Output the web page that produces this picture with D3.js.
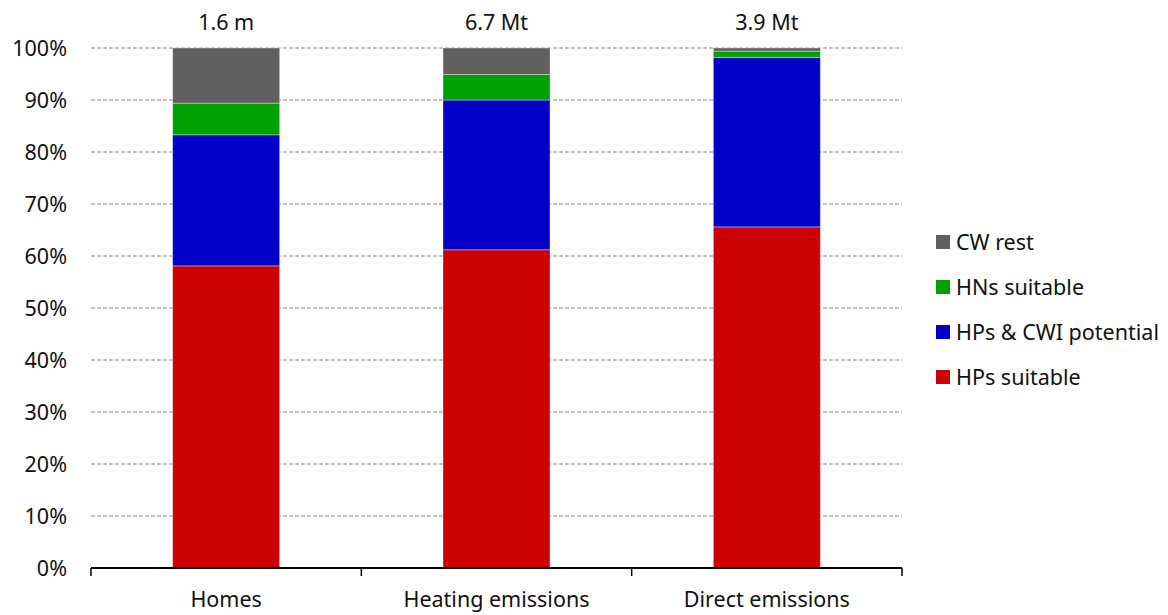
<!DOCTYPE html>
<html>
<head>
<script src="https://d3js.org/d3.v7.min.js"></script>
<style>
  body { margin: 0; background: #fff; }
  text { font-family: "Noto Sans", "Open Sans", sans-serif; fill: #111; }
</style>
</head>
<body>
<div id="chart"></div>
<script>
// Data
const categories = ["Homes", "Heating emissions", "Direct emissions"];
const totals = ["1.6 m", "6.7 Mt", "3.9 Mt"];
const seriesNames = ["HPs suitable", "HPs & CWI potential", "HNs suitable", "CW rest"];
const hpsSuitable = [58.1, 61.2, 65.6];
const hpsCwi = [25.2, 28.8, 32.6];
const hnsSuitable = [6.1, 4.9, 1.2];
const cwRest = [10.6, 5.1, 0.6];
const colors = ["#cc0000", "#0000c8", "#00a000", "#606060"];
const yTicks = [0, 10, 20, 30, 40, 50, 60, 70, 80, 90, 100];

const width = 1168, height = 615;
const margin = { top: 48, right: 266, bottom: 47, left: 91 };
const fontSize = 21.5;

const svg = d3.select("#chart").append("svg")
  .attr("width", width).attr("height", height);

const rows = categories.map((c, i) => ({
  category: c,
  "HPs suitable": hpsSuitable[i],
  "HPs & CWI potential": hpsCwi[i],
  "HNs suitable": hnsSuitable[i],
  "CW rest": cwRest[i]
}));
const stacked = d3.stack().keys(seriesNames)(rows);

const x = d3.scaleBand()
  .domain(categories)
  .range([margin.left, width - margin.right])
  .paddingInner(0).paddingOuter(0);

const y = d3.scaleLinear()
  .domain([0, 100])
  .range([height - margin.bottom, margin.top]);

// gridlines
svg.append("g")
  .selectAll("line")
  .data(yTicks.filter(d => d > 0))
  .join("line")
  .attr("x1", margin.left).attr("x2", width - margin.right)
  .attr("y1", d => y(d)).attr("y2", d => y(d))
  .attr("stroke", "#888").attr("stroke-width", 1.2)
  .attr("stroke-dasharray", "4,2");

// y labels
svg.append("g")
  .selectAll("text")
  .data(yTicks)
  .join("text")
  .attr("x", 67).attr("y", d => y(d))
  .attr("dy", "0.35em")
  .attr("text-anchor", "end")
  .attr("font-size", fontSize)
  .text(d => d + "%");

// bars
const barW = 107;
svg.append("g")
  .selectAll("g")
  .data(stacked)
  .join("g")
  .attr("fill", (d, i) => colors[i])
  .selectAll("rect")
  .data(d => d)
  .join("rect")
  .attr("x", d => x(d.data.category) + (x.bandwidth() - barW) / 2)
  .attr("y", d => y(d[1]))
  .attr("width", barW)
  .attr("height", d => y(d[0]) - y(d[1]))
  .attr("stroke", "rgba(255,255,255,0.45)")
  .attr("stroke-width", 0.8);

// x axis
const axisY = y(0);
svg.append("line")
  .attr("x1", margin.left).attr("x2", width - margin.right)
  .attr("y1", axisY).attr("y2", axisY)
  .attr("stroke", "#000").attr("stroke-width", 2);

const edges = categories.map(c => x(c)).concat([x(categories[categories.length - 1]) + x.bandwidth()]);
svg.append("g")
  .selectAll("line")
  .data(edges)
  .join("line")
  .attr("x1", d => d).attr("x2", d => d)
  .attr("y1", axisY).attr("y2", axisY + 8)
  .attr("stroke", "#000").attr("stroke-width", 1.5);

svg.append("g")
  .selectAll("text")
  .data(categories)
  .join("text")
  .attr("x", d => x(d) + x.bandwidth() / 2)
  .attr("y", 607)
  .attr("text-anchor", "middle")
  .attr("font-size", fontSize)
  .text(d => d);

// totals on top
svg.append("g")
  .selectAll("text")
  .data(categories)
  .join("text")
  .attr("x", d => x(d) + x.bandwidth() / 2)
  .attr("y", 22)
  .attr("dy", "0.35em")
  .attr("text-anchor", "middle")
  .attr("font-size", fontSize)
  .text((d, i) => totals[i]);

// legend
const legendOrder = seriesNames.slice().reverse();
const legend = svg.append("g")
  .selectAll("g")
  .data(legendOrder)
  .join("g")
  .attr("transform", (d, i) => `translate(936, ${242 + i * 45})`);
legend.append("rect")
  .attr("x", 0).attr("y", -7)
  .attr("width", 14).attr("height", 14)
  .attr("fill", d => colors[seriesNames.indexOf(d)]);
legend.append("text")
  .attr("x", 20).attr("y", 0)
  .attr("dy", "0.35em")
  .attr("font-size", fontSize)
  .text(d => d);
</script>
</body>
</html>
